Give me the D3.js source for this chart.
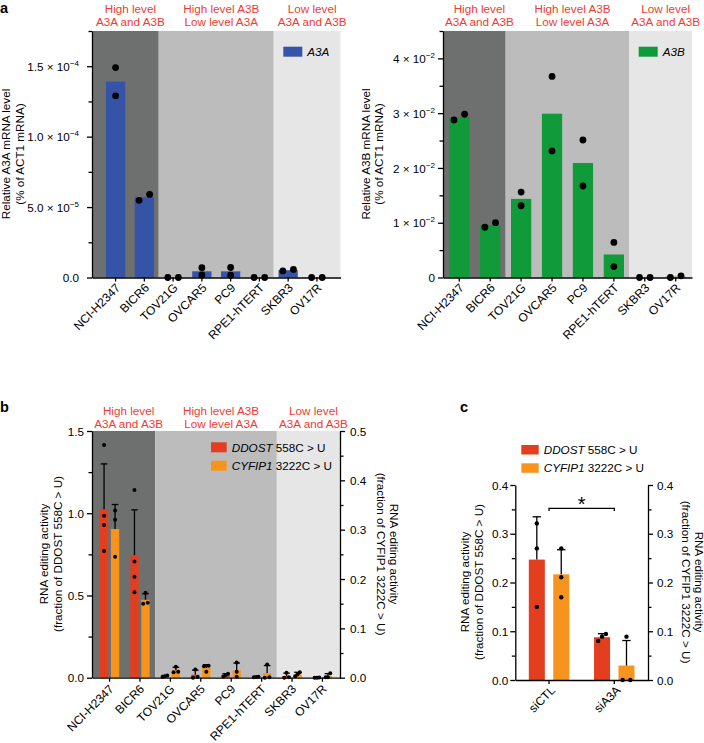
<!DOCTYPE html>
<html>
<head>
<meta charset="utf-8">
<script src="https://cdn.jsdelivr.net/npm/d3@7"></script>
<style>
  body { margin: 0; background: #fff; }
  svg text { font-family: "Liberation Sans", Arial, Helvetica, sans-serif; }
</style>
</head>
<body>
<div id="chart"></div>
<script>
// ---- data ----
const cellLines = ["NCI-H2347", "BICR6", "TOV21G", "OVCAR5", "PC9", "RPE1-hTERT", "SKBR3", "OV17R"];
const groupSizes = [2, 4, 2];
const groupNames = [["High level", "A3A and A3B"], ["High level A3B", "Low level A3A"], ["Low level", "A3A and A3B"]];

// relative mRNA level, two replicates per cell line
const a3aLevels = [[1.49e-4, 1.29e-4], [5.48e-5, 5.9e-5], [0, 0], [1.8e-6, 7.0e-6],
                   [1.6e-6, 7.1e-6], [0, 0], [4.7e-6, 5.7e-6], [0, 0]];
const a3bLevels = [[2.875e-2, 2.98e-2], [0.917e-2, 1.0e-2], [1.56e-2, 1.31e-2], [3.67e-2, 2.31e-2],
                   [2.51e-2, 1.67e-2], [0.64e-2, 0.2e-2], [0, 0], [0, 0.0003]];
const a3aTicks = [0, 5e-5, 1e-4, 1.5e-4];
const a3aTickLabels = [["0.0", ""], ["5.0 × 10", "−5"], ["1.0 × 10", "−4"], ["1.5 × 10", "−4"]];
const a3bTicks = [0, 0.01, 0.02, 0.03, 0.04];
const a3bTickLabels = [["0", ""], ["1 × 10", "−2"], ["2 × 10", "−2"], ["3 × 10", "−2"], ["4 × 10", "−2"]];

// RNA editing activity, replicates per cell line
const ddostEditing = [[1.415, 0.984, 0.929, 0.771], [1.142, 0.706, 0.614, 0.519], [0.014, 0.009, 0.005],
                      [0.05, 0.004, 0.0], [0.024, 0.016, 0.008], [0.006, 0.004, 0.003],
                      [0.03, 0.002, 0.0], [0.001, 0.0, 0.0]];
const cyfipEditing = [[0.339, 0.320, 0.245], [0.172, 0.152, 0.150], [0.022, 0.012, 0.011],
                      [0.024, 0.023, 0.012], [0.031, 0.012, 0.002], [0.027, 0.001, 0.0],
                      [0.011, 0.007, 0.003], [0.009, 0.001, 0.001]];
const ddostTicks = [0, 0.5, 1.0, 1.5];
const ddostTickLabels = ["0.0", "0.5", "1.0", "1.5"];
const cyfipTicks = [0, 0.1, 0.2, 0.3, 0.4, 0.5];
const cyfipTickLabels = ["0.0", "0.1", "0.2", "0.3", "0.4", "0.5"];

const siConditions = ["siCTL", "siA3A"];
const siDdost = [[0.321, 0.270, 0.150], [0.0944, 0.0889, 0.080]];
const siCyfip = [[0.270, 0.2107, 0.1696], [0.0889, 0.0, 0.0]];
const siTicks = [0, 0.1, 0.2, 0.3, 0.4];
const siTickLabels = ["0.0", "0.1", "0.2", "0.3", "0.4"];
const siSignificance = "*";

const seriesNames = [["DDOST", " 558C > U"], ["CYFIP1", " 3222C > U"]];

// ---- style ----
const groupColors = ["#6e6f6f", "#bcbcbc", "#e6e6e6"];
const labelRed = "#ef3b33";
const blue = "#3553a7", green = "#109a3a", red = "#e33e1f", orange = "#f7941e";
const FS = 11.7;

const svg = d3.select("#chart").append("svg")
    .attr("width", 704).attr("height", 743)
    .attr("font-size", FS);

// group spans split half way between neighbouring category centres
function groupSpans(x, cats) {
    const [r0, r1] = x.range();
    const c = k => x(k) + x.bandwidth() / 2;
    const spans = [];
    let i = 0;
    groupSizes.forEach((n, k) => {
        const start = i === 0 ? r0 : (c(cats[i - 1]) + c(cats[i])) / 2;
        const end = i + n === cats.length ? r1 : (c(cats[i + n - 1]) + c(cats[i + n])) / 2;
        spans.push({ start, end, k });
        i += n;
    });
    return spans;
}

function drawGroups(g, x, y0, y1, base1, base2) {
    const spans = groupSpans(x, cellLines);
    g.selectAll(".band").data(spans).join("rect")
        .attr("x", d => d.start).attr("width", d => d.end - d.start)
        .attr("y", y0).attr("height", y1 - y0)
        .attr("fill", d => groupColors[d.k]);
    spans.forEach(d => {
        const t = g.append("text").attr("text-anchor", "middle").attr("fill", labelRed);
        t.append("tspan").attr("x", (d.start + d.end) / 2 + 5).attr("y", base1).text(groupNames[d.k][0]);
        t.append("tspan").attr("x", (d.start + d.end) / 2 + 5).attr("y", base2).text(groupNames[d.k][1]);
    });
}

// simple scatter layout: dots that would overlap are spread sideways,
// lower value on the left
function spreadDots(vals, y, r, s) {
    const pts = vals.map(v => ({ v, py: y(v) })).sort((a, b) => b.py - a.py);
    const clusters = [];
    pts.forEach(p => {
        const last = clusters[clusters.length - 1];
        if (last && last[last.length - 1].py - p.py < 2 * r + 0.5) last.push(p);
        else clusters.push([p]);
    });
    clusters.forEach(cl => {
        const step = cl.length === 2 ? s : s / 2;
        cl.forEach((p, i) => p.dx = (i - (cl.length - 1) / 2) * step);
    });
    return pts;
}

function styleAxis(ax) {
    ax.attr("font-size", null).attr("font-family", null);
    ax.selectAll("path, line").attr("stroke", "#000").attr("stroke-width", 1.3);
}

function yAxis(g, y, ticks, labels, minorStep, xPos, side, pad) {
    const mk = side === "left" ? d3.axisLeft : d3.axisRight;
    const minor = d3.range(0, y.domain()[1] + 1e-12, minorStep)
        .filter(v => !ticks.some(t => Math.abs(t - v) < 1e-12));
    const axMin = g.append("g").attr("transform", `translate(${xPos},0)`)
        .call(mk(y).tickValues(minor).tickSize(3.5).tickFormat(""));
    axMin.select(".domain").remove();
    styleAxis(axMin);
    const ax = g.append("g").attr("transform", `translate(${xPos},0)`)
        .call(mk(y).tickValues(ticks).tickSize(5).tickSizeOuter(0).tickPadding(pad).tickFormat(""));
    styleAxis(ax);
    ax.selectAll(".tick text").each(function (d, i) {
        const t = d3.select(this).attr("fill", "#000").attr("dy", "0.35em");
        const lab = labels[i];
        if (Array.isArray(lab)) {
            t.text(lab[0]);
            if (lab[1]) t.append("tspan").attr("dy", -5).attr("font-size", 8).text(lab[1]);
        } else t.text(lab);
    });
}

function xAxis(g, x, yPos, dx, dy) {
    const ax = g.append("g").attr("transform", `translate(0,${yPos})`)
        .call(d3.axisBottom(x).tickSize(4).tickSizeOuter(0));
    styleAxis(ax);
    ax.selectAll(".tick text")
        .attr("x", 0).attr("y", 0).attr("dy", 0).attr("fill", "#000")
        .attr("font-size", 12)
        .attr("text-anchor", "end")
        .attr("transform", `translate(${dx},${dy}) rotate(-45)`);
}

function yTitle(g, lines, xs, cy, rot) {
    lines.forEach((ln, i) => {
        const t = g.append("text").attr("text-anchor", "middle")
            .attr("transform", `translate(${xs[i]},${cy}) rotate(${rot})`);
        ln.forEach(([s, it]) => t.append("tspan").attr("font-style", it ? "italic" : null).text(s));
    });
}

function legendItem(g, x, y, w, h, color, parts) {
    g.append("rect").attr("x", x).attr("y", y).attr("width", w).attr("height", h).attr("fill", color);
    const t = g.append("text").attr("x", x + w + 5).attr("y", y + h / 2 + 4.2);
    t.append("tspan").attr("font-style", "italic").text(parts[0]);
    if (parts[1]) t.append("tspan").text(parts[1]);
}

function panelLetter(x, y, s) {
    svg.append("text").attr("x", x).attr("y", y).attr("font-weight", "bold").attr("font-size", 14.5).text(s);
}

// ---- panel a ----
function levelPanel(o) {
    const g = svg.append("g");
    const x = d3.scaleBand().domain(cellLines).range([o.x0, o.x1]).paddingInner(o.padIn).paddingOuter(o.padOut);
    const y = d3.scaleLinear().domain([0, o.max]).range([o.y1, o.y0]);
    drawGroups(g, x, o.y0, o.y1, 13.1, 25.7);

    g.selectAll(".bar").data(o.reps).join("rect")
        .attr("x", (d, i) => x(cellLines[i])).attr("width", x.bandwidth())
        .attr("y", d => y(d3.mean(d))).attr("height", d => y(0) - y(d3.mean(d)))
        .attr("fill", o.color);

    o.reps.forEach((vals, i) => {
        const cx = x(cellLines[i]) + x.bandwidth() / 2;
        spreadDots(vals, y, 3.4, 10.6).forEach(p => {
            g.append("circle").attr("cx", cx + p.dx).attr("cy", p.py).attr("r", 3.4).attr("fill", "#000");
        });
    });

    legendItem(g, o.legX, 46.7, 19, 10, o.color, [o.name, ""]);
    yAxis(g, y, o.ticks, o.tickLabels, o.minor, o.x0, "left", o.pad);
    xAxis(g, x, o.y1, 5.5, 11);
    yTitle(g, [[[`Relative ${o.name} mRNA level`, false]], [["(% of ACT1 mRNA)", false]]], o.titleX, 154, -90);
}

levelPanel({ x0: 92, x1: 340.5, y0: 31, y1: 277.5, padIn: 0.33, padOut: 0.485, max: 1.75e-4,
    reps: a3aLevels, ticks: a3aTicks, tickLabels: a3aTickLabels, minor: 2.5e-5, color: blue,
    name: "A3A", legX: 283.3, pad: 8, titleX: [10, 23.5] });
levelPanel({ x0: 443, x1: 692, y0: 31, y1: 277.5, padIn: 0.345, padOut: 0.2, max: 4.5e-2,
    reps: a3bLevels, ticks: a3bTicks, tickLabels: a3bTickLabels, minor: 5e-3, color: green,
    name: "A3B", legX: 638.7, pad: 3, titleX: [369.5, 383] });
panelLetter(0, 12.5, "a");

// ---- shared for b and c ----
function editBars(g, x, inner, yL, yR, reps1, reps2, cats, r, s, cap) {
    const series = [{ reps: reps1, y: yL, color: red }, { reps: reps2, y: yR, color: orange }];
    series.forEach((ser, k) => {
        ser.reps.forEach((vals, i) => {
            const bx = x(cats[i]) + inner(k);
            const m = d3.mean(vals), sd = d3.deviation(vals);
            const cx = bx + inner.bandwidth() / 2;
            g.append("rect").attr("x", bx).attr("width", inner.bandwidth())
                .attr("y", ser.y(m)).attr("height", ser.y(0) - ser.y(m)).attr("fill", ser.color);
            g.append("line").attr("x1", cx).attr("x2", cx).attr("y1", ser.y(m)).attr("y2", ser.y(m + sd))
                .attr("stroke", "#000").attr("stroke-width", 1.3);
            g.append("line").attr("x1", cx - cap).attr("x2", cx + cap).attr("y1", ser.y(m + sd)).attr("y2", ser.y(m + sd))
                .attr("stroke", "#000").attr("stroke-width", 1.3);
        });
    });
    series.forEach((ser, k) => {
        ser.reps.forEach((vals, i) => {
            const cx = x(cats[i]) + inner(k) + inner.bandwidth() / 2;
            spreadDots(vals, ser.y, r, s).forEach(p => {
                g.append("circle").attr("cx", cx + p.dx).attr("cy", p.py).attr("r", r).attr("fill", "#000");
            });
        });
    });
}

const editTitleL = [[["RNA editing activity", false]], [["(fraction of DDOST 558C > U)", false]]];
const editTitleR = [[["RNA editing activity", false]], [["(fraction of CYFIP1 3222C > U)", false]]];

// ---- panel b ----
(function () {
    const g = svg.append("g");
    const x0 = 92, x1 = 340, y0 = 431, y1 = 677.7;
    const x = d3.scaleBand().domain(cellLines).range([x0, x1]).paddingInner(0.365).paddingOuter(0.26);
    const inner = d3.scaleBand().domain([0, 1]).range([0, x.bandwidth()]).paddingInner(0.245);
    const yL = d3.scaleLinear().domain([0, 1.5]).range([y1, y0]);
    const yR = d3.scaleLinear().domain([0, 0.5]).range([y1, y0]);
    drawGroups(g, x, y0, y1, 415, 427.7);
    editBars(g, x, inner, yL, yR, ddostEditing, cyfipEditing, cellLines, 2, 4.6, 3.3);
    legendItem(g, 211, 442.3, 15.7, 10, red, seriesNames[0]);
    legendItem(g, 211, 460.7, 15.7, 10, orange, seriesNames[1]);
    yAxis(g, yL, ddostTicks, ddostTickLabels, 0.25, x0, "left", 3);
    yAxis(g, yR, cyfipTicks, cyfipTickLabels, 0.05, x1, "right", 5);
    xAxis(g, x, y1, 5, 12);
    yTitle(g, editTitleL, [48, 61.5], 554, -90);
    yTitle(g, editTitleR, [390.3, 377], 554, 90);
})();
panelLetter(0, 412, "b");

// ---- panel c ----
(function () {
    const g = svg.append("g");
    const x0 = 515.3, x1 = 648, y0 = 485, y1 = 680;
    const x = d3.scaleBand().domain(siConditions).range([x0, x1]).paddingInner(0.38).paddingOuter(0.207);
    const inner = d3.scaleBand().domain([0, 1]).range([0, x.bandwidth()]).paddingInner(0.344);
    const yL = d3.scaleLinear().domain([0, 0.4]).range([y1, y0]);
    const yR = d3.scaleLinear().domain([0, 0.4]).range([y1, y0]);
    editBars(g, x, inner, yL, yR, siDdost, siCyfip, siConditions, 2.2, 7.7, 4.2);
    legendItem(g, 521.3, 445, 17.4, 9.5, red, seriesNames[0]);
    legendItem(g, 521.3, 463.3, 17.4, 9.5, orange, seriesNames[1]);
    yAxis(g, yL, siTicks, siTickLabels, 0.05, x0, "left", 2);
    yAxis(g, yR, siTicks, siTickLabels, 0.05, x1, "right", 4);
    xAxis(g, x, y1, 7, 11);
    yTitle(g, editTitleL, [469, 482.5], 582, -90);
    yTitle(g, editTitleR, [694.5, 681.5], 582, 90);

    // significance bracket between the two conditions
    const bx1 = x(siConditions[0]) + x.bandwidth() / 2, bx2 = x(siConditions[1]) + x.bandwidth() / 2;
    const by = yL(0.352);
    g.append("path").attr("d", `M${bx1},${by + 2.5}V${by}H${bx2}V${by + 2.5}`)
        .attr("fill", "none").attr("stroke", "#000").attr("stroke-width", 1.3);
    g.append("text").attr("x", (bx1 + bx2) / 2).attr("y", by + 3).attr("text-anchor", "middle")
        .attr("font-size", 20).text(siSignificance);
})();
panelLetter(460, 412, "c");
</script>
</body>
</html>
